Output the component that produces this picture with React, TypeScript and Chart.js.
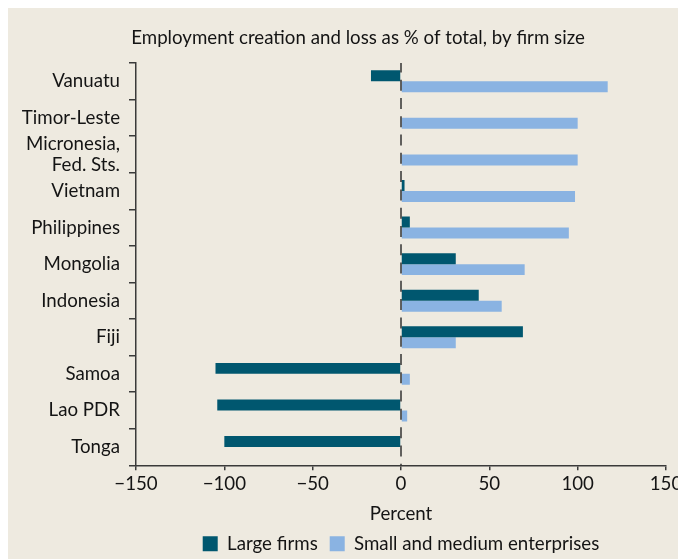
import React, { useEffect, useRef } from 'react';
import { Chart, registerables } from 'chart.js';

Chart.register(...registerables);

const TITLE = 'Employment creation and loss as % of total, by firm size';
const AXIS_TITLE = 'Percent';
const categories: (string | string[])[] = [
  'Vanuatu',
  'Timor-Leste',
  ['Micronesia,', 'Fed. Sts.'],
  'Vietnam',
  'Philippines',
  'Mongolia',
  'Indonesia',
  'Fiji',
  'Samoa',
  'Lao PDR',
  'Tonga',
];
const seriesNames = ['Large firms', 'Small and medium enterprises'];
const largeFirms = [-17, 0, 0, 2, 5, 31, 44, 69, -105, -104, -100];
const smeValues = [117, 100, 100, 98.5, 95, 70, 57, 31, 5, 3.5, 0];
const xMin = -150;
const xMax = 150;
const xStep = 50;

const FONT = 'Lato';
const FS = 18.7;
const TEXT = '#141414';
const AXIS = '#3a3a3a';
const DARK = '#00576f';
const LIGHT = '#8ab3e2';
const BG = '#eeeae0';

const fmt = (v: number) => (v < 0 ? '\u2212' + Math.abs(v) : String(v));

const titlePlugin = {
  id: 'customTitle',
  afterDraw(chart: any) {
    const ctx = chart.ctx;
    ctx.save();
    ctx.font = `${FS}px ${FONT}`;
    ctx.fillStyle = TEXT;
    ctx.textAlign = 'center';
    ctx.textBaseline = 'middle';
    ctx.fillText(TITLE, 350, 30);
    ctx.restore();
  },
};

const zeroLinePlugin = {
  id: 'zeroLine',
  afterDatasetsDraw(chart: any) {
    const { ctx, chartArea, scales } = chart;
    const x = scales.x.getPixelForValue(0);
    const period = (chartArea.bottom - chartArea.top) / (categories.length * 2);
    ctx.save();
    ctx.strokeStyle = '#333333';
    ctx.lineWidth = 1.5;
    ctx.setLineDash([11, period - 11]);
    ctx.lineDashOffset = 1.6;
    ctx.beginPath();
    ctx.moveTo(x, chartArea.top);
    ctx.lineTo(x, chartArea.bottom);
    ctx.stroke();
    ctx.restore();
  },
};

export default function App() {
  const ref = useRef<HTMLCanvasElement>(null);
  useEffect(() => {
    if (!ref.current) return;
    const chart = new Chart(ref.current, {
      type: 'bar',
      data: {
        labels: categories as any,
        datasets: [
          {
            label: seriesNames[0],
            data: largeFirms,
            backgroundColor: DARK,
            categoryPercentage: 0.6,
            barPercentage: 1,
          },
          {
            label: seriesNames[1],
            data: smeValues,
            backgroundColor: LIGHT,
            categoryPercentage: 0.6,
            barPercentage: 1,
          },
        ],
      },
      options: {
        indexAxis: 'y',
        responsive: false,
        animation: false,
        layout: { padding: { top: 55, right: 20, left: 0, bottom: -4 } },
        plugins: {
          title: { display: false },
          tooltip: { enabled: false },
          legend: {
            position: 'bottom',
            fullSize: false,
            labels: {
              boxWidth: 15,
              boxHeight: 15,
              padding: 12,
              color: TEXT,
              font: { family: FONT, size: FS },
            },
          },
        },
        scales: {
          x: {
            type: 'linear',
            min: xMin,
            max: xMax,
            ticks: {
              stepSize: xStep,
              color: TEXT,
              font: { family: FONT, size: FS },
              padding: 2,
              callback: (v: any) => fmt(Number(v)),
              maxRotation: 0,
            },
            grid: {
              drawOnChartArea: false,
              drawTicks: true,
              tickLength: 5,
              color: AXIS,
              lineWidth: 1.5,
            },
            border: { display: true, color: AXIS, width: 1.5 },
            title: {
              display: true,
              text: AXIS_TITLE,
              color: TEXT,
              font: { family: FONT, size: FS },
              padding: { top: 0, bottom: -3 },
            },
            afterFit: (scale: any) => {
              scale.height = 57;
            },
          },
          y: {
            type: 'category',
            offset: true,
            ticks: {
              color: TEXT,
              font: { family: FONT, size: FS, lineHeight: 1.1 },
              padding: 9,
              autoSkip: false,
            },
            grid: {
              offset: true,
              drawOnChartArea: false,
              drawTicks: true,
              tickLength: 7,
              color: AXIS,
              lineWidth: 1.5,
            },
            border: { display: true, color: AXIS, width: 1.5 },
            afterFit: (scale: any) => {
              scale.width = 128;
            },
          },
        },
      },
      plugins: [titlePlugin, zeroLinePlugin],
    } as any);
    return () => chart.destroy();
  }, []);
  return (
    <canvas
      ref={ref}
      width={678}
      height={551}
      style={{ display: 'block', background: BG, width: 678, height: 551 }}
    />
  );
}
